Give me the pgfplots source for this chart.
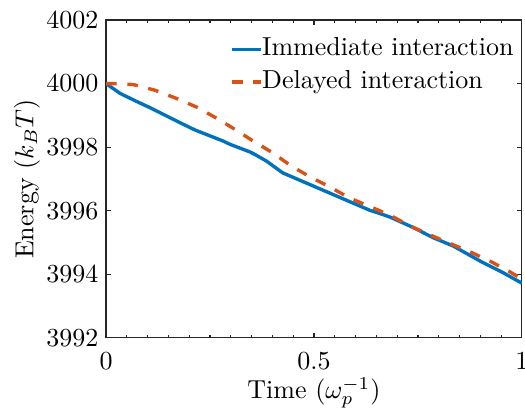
\documentclass[border=0pt]{standalone}
\usepackage{pgfplots}
\pgfplotsset{compat=1.18}
\usetikzlibrary{calc}
\definecolor{mblue}{rgb}{0,0.447,0.741}
\definecolor{morange}{rgb}{0.85,0.325,0.098}
\definecolor{maxis}{rgb}{0.15,0.15,0.15}
\begin{document}
\begin{tikzpicture}
\begin{axis}[name=ax, scale only axis, width=160pt, height=122.3pt,
  xmin=0, xmax=1, ymin=3992, ymax=4002,
  xtick={0,0.5,1}, ytick={3992,3994,...,4002},
  minor x tick num=9,
  scaled y ticks=false, scaled x ticks=false,
  tick align=inside, major tick length=2pt, minor tick length=1.3pt,
  axis line style={maxis, line width=0.45pt},
  every tick/.append style={maxis, line width=0.45pt},
  yticklabel style={/pgf/number format/1000 sep={}, xshift=0.6pt},
  xticklabel style={yshift=-2pt},
  xlabel={Time ($\omega_p^{-1}$)}, ylabel={Energy ($k_BT$)},
  label style={font=\fontsize{11}{13}\selectfont},
  every axis x label/.style={at={(axis description cs:0.5,0)}, anchor=base, yshift=-23.3pt},
  every axis y label/.style={at={(axis description cs:0,0.5)}, xshift=-28pt, rotate=90, anchor=base},
  legend style={draw=none, fill=none, at={(axis description cs:0.298,0.946)}, anchor=north west,
    inner sep=0pt, row sep=3.6pt,
    nodes={inner sep=0pt, text height=7pt, text depth=2pt, font=\fontsize{10}{12}\selectfont}},
  legend cell align=left,
  legend image code/.code={\draw[#1] (0pt,0pt) -- (10.9pt,0pt);},
]
\addplot[mblue, line width=1.3pt] coordinates {
(0,4000.00) (0.034,3999.69) (0.07,3999.46) (0.106,3999.24) (0.17,3998.82)
(0.214,3998.54) (0.282,3998.19) (0.298,3998.09) (0.346,3997.85) (0.358,3997.77)
(0.386,3997.56) (0.425,3997.19) (0.498,3996.78) (0.578,3996.33) (0.635,3996.01)
(0.659,3995.91) (0.683,3995.80) (0.739,3995.47) (0.787,3995.15) (0.835,3994.89)
(0.899,3994.42) (0.955,3994.05) (1.0,3993.72)
};
\addlegendentry{Immediate interaction}
\addplot[morange, line width=1.3pt, dash pattern=on 4.1pt off 4.1pt] coordinates {
(0,4000.00) (0.026,4000.00) (0.065,3999.97) (0.118,3999.79) (0.17,3999.53)
(0.218,3999.26) (0.266,3998.91) (0.31,3998.56) (0.354,3998.19) (0.401,3997.82)
(0.445,3997.41) (0.49,3997.07) (0.538,3996.75) (0.587,3996.39) (0.635,3996.13)
(0.683,3995.86) (0.731,3995.52) (0.779,3995.24) (0.827,3994.97) (0.875,3994.71)
(0.927,3994.39) (0.971,3994.08) (1.0,3993.85)
};
\addlegendentry{Delayed interaction}
\end{axis}
\pgfresetboundingbox
\path ($(ax.south west)+(-40.8pt,-28.1pt)$) rectangle ($(ax.north east)+(1.2pt,7.7pt)$);
\end{tikzpicture}
\end{document}
